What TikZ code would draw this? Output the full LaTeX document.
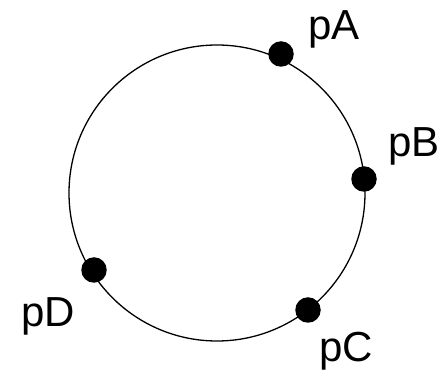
\documentclass[tikz,border=0pt]{standalone}
\usepackage{fontspec}
\setmainfont{Liberation Sans}
\begin{document}
\begin{tikzpicture}[x=1pt,y=-1pt,
  dot/.style={circle,fill=black,inner sep=0pt,minimum size=25.5pt},
  lbl/.style={anchor=base west,inner sep=0pt,font=\fontsize{42}{50}\selectfont}]
\useasboundingbox (0,0) rectangle (448,371);
\coordinate (c) at (217,193);
\draw[line width=1.3pt] (c) circle[radius=148pt];
\node[dot] (pA) at (281,54) {};
\node[dot] (pB) at (364,179) {};
\node[dot] (pC) at (308,310) {};
\node[dot] (pD) at (94,270) {};
\node[lbl] (lA) at (308,40) {pA};
\node[lbl] (lB) at (388,157) {pB};
\node[lbl] (lC) at (319,362) {pC};
\node[lbl] (lD) at (21,327) {pD};
\end{tikzpicture}
\end{document}
